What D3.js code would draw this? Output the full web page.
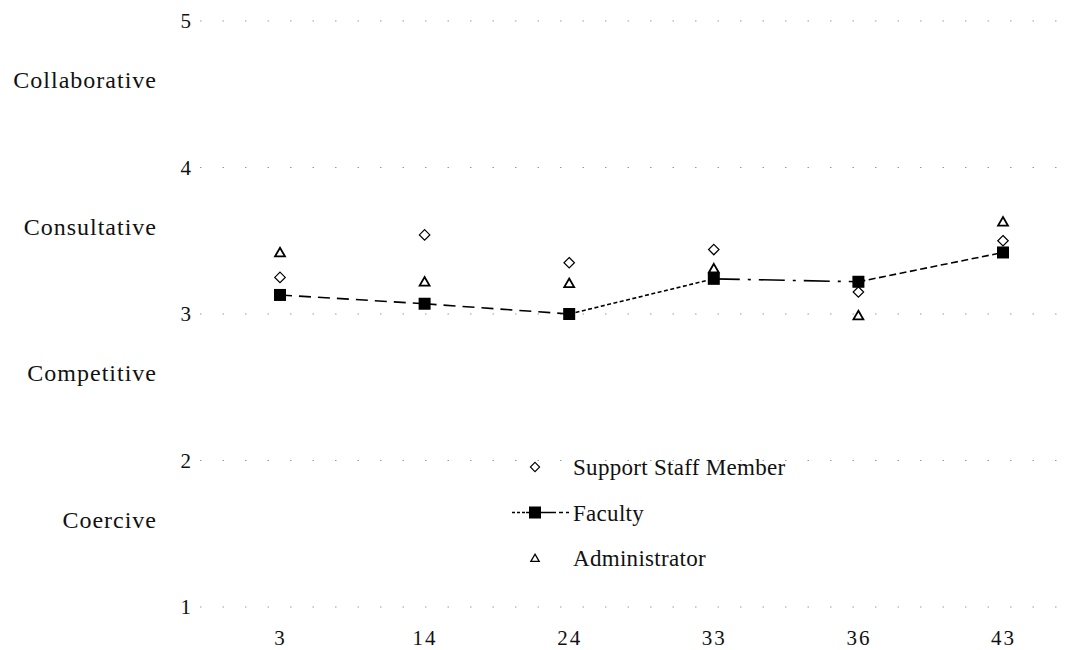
<!DOCTYPE html>
<html>
<head>
<meta charset="utf-8">
<script src="https://cdn.jsdelivr.net/npm/d3@7/dist/d3.min.js"></script>
<style>
  html, body { margin: 0; padding: 0; background: #fff; }
  svg { display: block; }
  text { font-family: "Liberation Serif", "Times New Roman", serif; fill: #111; }
</style>
</head>
<body>
<svg id="chart" width="1076" height="650"></svg>
<script>
// ---- data ----
const categories = ["3", "14", "24", "33", "36", "43"];
const supportStaff = [3.25, 3.54, 3.35, 3.44, 3.15, 3.50];
const faculty = [3.13, 3.07, 3.00, 3.24, 3.22, 3.42];
const administrator = [3.42, 3.22, 3.21, 3.31, 2.99, 3.63];
const yTicks = [1, 2, 3, 4, 5];
const styleLabels = ["Coercive", "Competitive", "Consultative", "Collaborative"];
const styleLabelValues = [1.6, 2.6, 3.6, 4.6];
const legendNames = ["Support Staff Member", "Faculty", "Administrator"];

// ---- layout ----
const svg = d3.select("#chart");
const x = d3.scalePoint().domain(categories).range([280, 1003]);
const y = d3.scaleLinear().domain([1, 5]).range([607, 21]);

// sparse dotted gridlines (faint, as in the scan)
svg.append("g").selectAll("line").data(yTicks).join("line")
  .attr("x1", 200).attr("x2", 1076)
  .attr("y1", d => y(d)).attr("y2", d => y(d))
  .attr("stroke", "#999").attr("stroke-width", 1)
  .attr("stroke-dasharray", "1.5,21");

// y axis numbers
const yAxis = d3.axisLeft(y).tickValues(yTicks).tickSize(0).tickFormat(d3.format("d"));
const gy = svg.append("g").attr("transform", "translate(191,0)").call(yAxis);
gy.select(".domain").remove();
gy.selectAll("text").attr("x", 0).attr("font-size", 21)
  .style("font-family", "Liberation Serif, serif").attr("fill", "#333");

// x axis numbers
const xAxis = d3.axisBottom(x).tickSize(0);
const gx = svg.append("g").attr("transform", "translate(0,630)").call(xAxis);
gx.select(".domain").remove();
gx.selectAll("text").attr("y", 0).attr("dy", "0.71em").attr("font-size", 21)
  .attr("letter-spacing", 2)
  .style("font-family", "Liberation Serif, serif").attr("fill", "#333");

// style labels
svg.append("g").selectAll("text").data(styleLabels).join("text")
  .attr("x", 157).attr("y", (d, i) => y(styleLabelValues[i]))
  .attr("dy", "0.35em").attr("text-anchor", "end")
  .attr("font-size", 24).attr("letter-spacing", 1)
  .text(d => d);

// faculty line, segment by segment (scan shows differing dash styles)
const segDash = ["12,7", "12,7", "4,2.5", "26,8,3,8", "7,3.5"];
const segs = d3.range(categories.length - 1);
svg.append("g").selectAll("line").data(segs).join("line")
  .attr("x1", i => x(categories[i])).attr("y1", i => y(faculty[i]))
  .attr("x2", i => x(categories[i + 1])).attr("y2", i => y(faculty[i + 1]))
  .attr("stroke", "#000").attr("stroke-width", 1.6)
  .attr("stroke-dasharray", i => segDash[i]);

const diamond = d3.symbol().type(d3.symbolDiamond2).size(70);
const triangle = d3.symbol().type(d3.symbolTriangle2).size(70);

// support staff diamonds
svg.append("g").selectAll("path").data(supportStaff).join("path")
  .attr("transform", (d, i) => `translate(${x(categories[i])},${y(d)})`)
  .attr("d", diamond).attr("fill", "#fff").attr("stroke", "#000").attr("stroke-width", 1.2);

// administrator triangles
svg.append("g").selectAll("path").data(administrator).join("path")
  .attr("transform", (d, i) => `translate(${x(categories[i])},${y(d) + 1})`)
  .attr("d", triangle).attr("fill", "none").attr("stroke", "#000").attr("stroke-width", 1.8);

// faculty squares
svg.append("g").selectAll("rect").data(faculty).join("rect")
  .attr("x", (d, i) => x(categories[i]) - 6).attr("y", d => y(d) - 6)
  .attr("width", 12).attr("height", 12).attr("fill", "#000");

// legend
const lg = svg.append("g");
const lx = 535, ly0 = 467, lstep = 45.5;
lg.append("path").attr("transform", `translate(${lx},${ly0})`)
  .attr("d", d3.symbol().type(d3.symbolDiamond2).size(55))
  .attr("fill", "none").attr("stroke", "#000").attr("stroke-width", 1.1);
lg.append("line").attr("x1", lx - 23).attr("x2", lx + 35)
  .attr("y1", ly0 + lstep).attr("y2", ly0 + lstep)
  .attr("stroke", "#000").attr("stroke-width", 1.4).attr("stroke-dasharray", "3,2,3,2,3,1,30,3,4,3");
lg.append("rect").attr("x", lx - 6).attr("y", ly0 + lstep - 6)
  .attr("width", 12).attr("height", 12).attr("fill", "#000");
lg.append("path").attr("transform", `translate(${lx},${ly0 + 2 * lstep + 1})`)
  .attr("d", d3.symbol().type(d3.symbolTriangle2).size(50))
  .attr("fill", "none").attr("stroke", "#000").attr("stroke-width", 1.3);
lg.selectAll("text").data(legendNames).join("text")
  .attr("x", 573).attr("y", (d, i) => ly0 + i * lstep)
  .attr("dy", "0.35em").attr("font-size", 23).attr("letter-spacing", 0.3)
  .text(d => d);
</script>
</body>
</html>
